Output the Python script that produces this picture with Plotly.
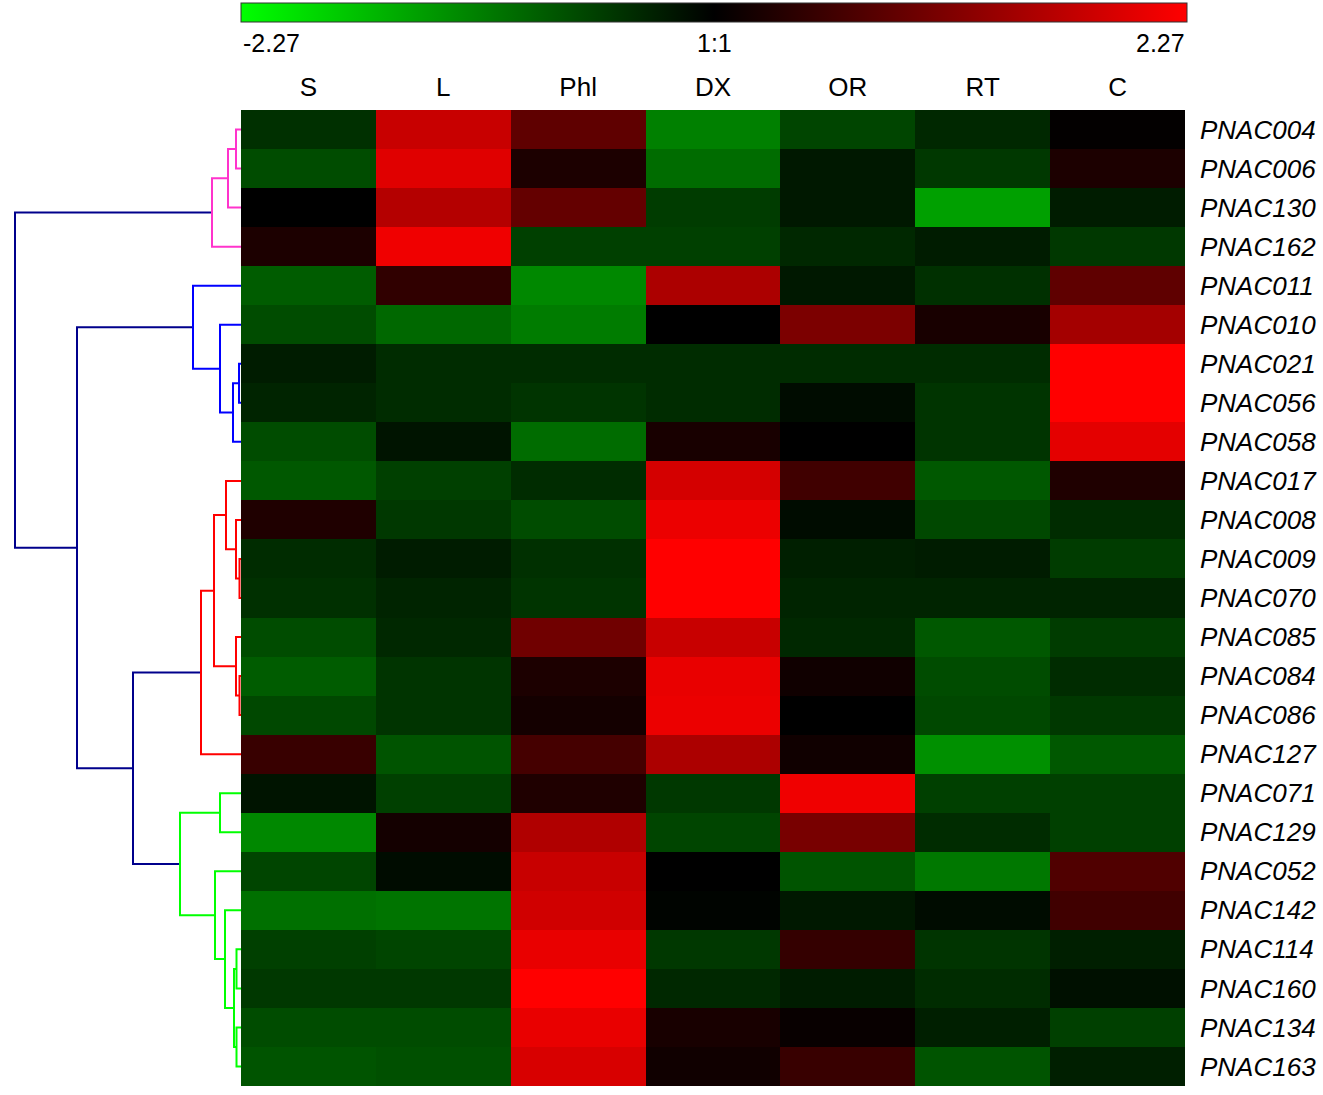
import plotly.graph_objects as go

W, H = 1323, 1095

columns = ["S", "L", "Phl", "DX", "OR", "RT", "C"]
genes = ["PNAC004", "PNAC006", "PNAC130", "PNAC162", "PNAC011", "PNAC010", "PNAC021",
         "PNAC056", "PNAC058", "PNAC017", "PNAC008", "PNAC009", "PNAC070", "PNAC085",
         "PNAC084", "PNAC086", "PNAC127", "PNAC071", "PNAC129", "PNAC052", "PNAC142",
         "PNAC114", "PNAC160", "PNAC134", "PNAC163"]

# log ratio values (rows = genes, cols = tissues)
values = [
    [-0.43, 1.78, 0.85, -1.14, -0.61, -0.36, 0.03],
    [-0.68, 1.99, 0.25, -0.96, -0.21, -0.50, 0.25],
    [0.00, 1.60, 0.89, -0.53, -0.21, -1.42, -0.25],
    [0.25, 2.14, -0.57, -0.57, -0.36, -0.25, -0.50],
    [-0.82, 0.43, -1.21, 1.53, -0.21, -0.43, 0.85],
    [-0.68, -0.93, -1.10, 0.00, 1.10, 0.21, 1.46],
    [-0.25, -0.39, -0.39, -0.39, -0.39, -0.39, 2.27],
    [-0.32, -0.39, -0.46, -0.39, -0.11, -0.46, 2.27],
    [-0.68, -0.18, -0.96, 0.21, 0.00, -0.46, 2.03],
    [-0.78, -0.57, -0.39, 1.89, 0.57, -0.78, 0.28],
    [0.28, -0.50, -0.68, 2.10, -0.11, -0.64, -0.39],
    [-0.39, -0.25, -0.43, 2.27, -0.28, -0.25, -0.53],
    [-0.43, -0.32, -0.46, 2.27, -0.32, -0.32, -0.32],
    [-0.68, -0.36, 1.00, 1.78, -0.36, -0.78, -0.53],
    [-0.82, -0.46, 0.25, 2.07, 0.14, -0.68, -0.39],
    [-0.64, -0.46, 0.18, 2.10, 0.00, -0.64, -0.50],
    [0.50, -0.75, 0.61, 1.53, 0.14, -1.28, -0.78],
    [-0.18, -0.57, 0.28, -0.50, 2.14, -0.57, -0.57],
    [-1.21, 0.18, 1.57, -0.61, 1.07, -0.39, -0.57],
    [-0.61, -0.11, 1.78, 0.00, -0.75, -1.07, 0.71],
    [-1.00, -1.03, 1.85, -0.04, -0.21, -0.11, 0.57],
    [-0.57, -0.61, 2.07, -0.50, 0.46, -0.46, -0.28],
    [-0.50, -0.50, 2.27, -0.36, -0.25, -0.39, -0.14],
    [-0.68, -0.68, 2.07, 0.21, 0.07, -0.28, -0.57],
    [-0.75, -0.71, 1.92, 0.14, 0.50, -0.75, -0.28],
]

zlim = 2.27
cbar_labels = ["-2.27", "1:1", "2.27"]

# hierarchical clustering merges: (left, right, distance, colour group)
# leaves are row indices 0..24, merged nodes numbered from 25 upward
merge_left = [6, 25, 5, 4, 0, 29, 30, 11, 10, 9, 14, 13, 34, 37, 17, 21, 23, 40, 20, 19, 39, 38, 28, 31]
merge_right = [7, 8, 26, 27, 1, 2, 3, 12, 32, 33, 15, 35, 36, 16, 18, 22, 24, 41, 42, 43, 44, 45, 46, 47]
merge_dist = [2, 8, 21, 48, 5, 13, 29, 1.5, 5, 15, 1.5, 5, 27, 40, 21, 4.5, 4.5, 7, 16, 26, 61, 108, 164, 226]
merge_group = ["blue", "blue", "blue", "blue", "pink", "pink", "pink", "red", "red", "red", "red", "red",
               "red", "red", "green", "green", "green", "green", "green", "green", "green", "top", "top", "top"]

group_colors = {"pink": "#ff33cc", "blue": "#0000ff", "red": "#ff0000", "green": "#00ff00", "top": "#00008c"}

FONT = "Liberation Sans, Arial, sans-serif"

# ---------- layout geometry (pixels) ----------
hm_left, hm_right, hm_top, hm_bottom = 241, 1185, 110, 1086
dx0, dx1 = hm_left / W, hm_right / W
dy0, dy1 = 1 - hm_bottom / H, 1 - hm_top / H

fig = go.Figure()

fig.add_trace(go.Heatmap(
    z=values, x=list(range(len(columns))), y=list(range(len(genes))),
    zmin=-zlim, zmax=zlim,
    colorscale=[[0, "#00ff00"], [0.5, "#000000"], [1, "#ff0000"]],
    xaxis="x", yaxis="y",
    colorbar=dict(
        orientation="h", x=(241 + 1187) / 2 / W, xanchor="center",
        len=(1187 - 241) / W, lenmode="fraction",
        y=1 - 3 / H, yanchor="top", ypad=0, xpad=0,
        thickness=19, thicknessmode="pixels",
        outlinewidth=1, outlinecolor="#333333",
        showticklabels=False, ticks="",
    ),
    hoverongaps=False,
))

# ---------- dendrogram ----------
n_leaves = len(genes)
node_y = {i: float(i) for i in range(n_leaves)}
node_d = {i: 0.0 for i in range(n_leaves)}
seg_x = {g: [] for g in group_colors}
seg_y = {g: [] for g in group_colors}
for k, (a, b, d, g) in enumerate(zip(merge_left, merge_right, merge_dist, merge_group)):
    nid = n_leaves + k
    ya, yb = node_y[a], node_y[b]
    seg_x[g] += [node_d[a], d, d, node_d[b], None]
    seg_y[g] += [ya, ya, yb, yb, None]
    node_y[nid] = (ya + yb) / 2
    node_d[nid] = d

for g in ["top", "pink", "blue", "red", "green"]:
    fig.add_trace(go.Scatter(
        x=seg_x[g], y=seg_y[g], mode="lines", xaxis="x2", yaxis="y2",
        line=dict(color=group_colors[g], width=2), hoverinfo="skip", showlegend=False,
    ))

dend_max = max(merge_dist) * hm_left / (hm_left - 15)

fig.update_layout(
    width=W, height=H,
    margin=dict(l=0, r=0, t=0, b=0),
    paper_bgcolor="white", plot_bgcolor="white",
    showlegend=False,
    xaxis=dict(domain=[dx0, dx1], side="top", tickvals=list(range(len(columns))), ticktext=columns,
               range=[-0.5, len(columns) - 0.5], showgrid=False, zeroline=False, ticks="",
               tickfont=dict(family=FONT, size=26, color="black"), ticklabelstandoff=8),
    yaxis=dict(domain=[dy0, dy1], side="right", tickvals=list(range(len(genes))), ticktext=genes,
               range=[len(genes) - 0.5, -0.5], showgrid=False, zeroline=False, ticks="",
               tickfont=dict(family=FONT, size=26, color="black", style="italic"),
               ticklabelstandoff=14),
    xaxis2=dict(domain=[0, dx0], range=[dend_max, 0], visible=False, showgrid=False, zeroline=False),
    yaxis2=dict(domain=[dy0, dy1], range=[len(genes) - 0.5, -0.5], visible=False,
                showgrid=False, zeroline=False, anchor="x2"),
)

# colour bar end labels
lab_y = 1 - 43 / H
fig.add_annotation(x=241 / W, y=lab_y, xref="paper", yref="paper", text=cbar_labels[0],
                   showarrow=False, xanchor="left", yanchor="middle",
                   font=dict(family=FONT, size=25, color="black"))
fig.add_annotation(x=(241 + 1187) / 2 / W, y=lab_y, xref="paper", yref="paper", text=cbar_labels[1],
                   showarrow=False, xanchor="center", yanchor="middle",
                   font=dict(family=FONT, size=25, color="black"))
fig.add_annotation(x=1187 / W, y=lab_y, xref="paper", yref="paper", text=cbar_labels[2],
                   showarrow=False, xanchor="right", yanchor="middle",
                   font=dict(family=FONT, size=25, color="black"))

fig.write_html("out.html", config={"displayModeBar": False},
               post_script="document.body.style.margin='0';document.body.style.overflow='hidden';")
